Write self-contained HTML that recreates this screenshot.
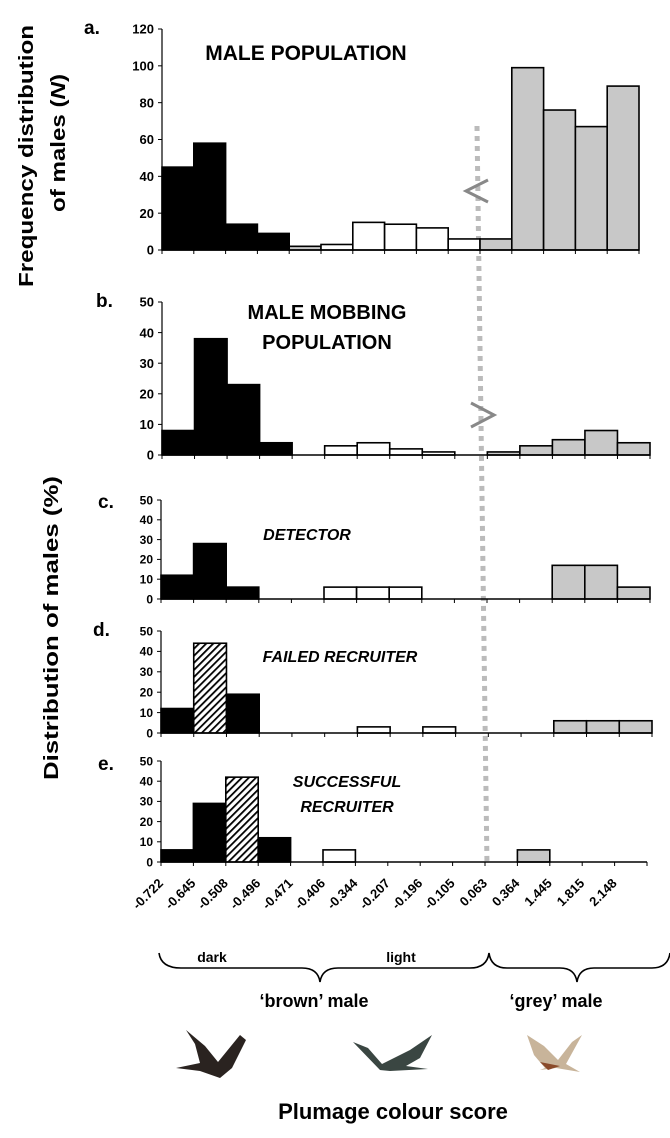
<!DOCTYPE html>
<html><head><meta charset="utf-8"><style>
html,body{margin:0;padding:0;background:#fff;}
svg{display:block;font-family:"Liberation Sans",Arial,sans-serif;}
</style></head><body>
<svg width="670" height="1138" viewBox="0 0 670 1138" xmlns="http://www.w3.org/2000/svg">
<defs>
<pattern id="h" width="5" height="5" patternUnits="userSpaceOnUse" patternTransform="rotate(45)">
<rect width="5" height="5" fill="#fff"/><rect width="1.8" height="5" fill="#000"/>
</pattern>
</defs>
<!-- dotted line -->
<line x1="477" y1="126" x2="487" y2="866" stroke="#bbb" stroke-width="5" stroke-dasharray="5,5"/>
<g id="bars"></g>
<!-- Y axis titles -->
<text transform="translate(33,156) rotate(-90)" text-anchor="middle" font-size="20" font-weight="bold" textLength="262" lengthAdjust="spacingAndGlyphs">Frequency distribution</text>
<text transform="translate(65,143) rotate(-90)" text-anchor="middle" font-size="20" font-weight="bold" textLength="138" lengthAdjust="spacingAndGlyphs">of males (<tspan font-style="italic">N</tspan>)</text>
<text transform="translate(58,628) rotate(-90)" text-anchor="middle" font-size="20" font-weight="bold" textLength="304" lengthAdjust="spacingAndGlyphs">Distribution of males (%)</text>
<!-- panel letters -->
<g font-size="19" font-weight="bold">
<text x="84" y="34">a.</text><text x="96" y="307">b.</text><text x="98" y="508">c.</text><text x="93" y="636">d.</text><text x="98" y="770">e.</text>
</g>
<!-- titles -->
<g font-weight="bold" text-anchor="middle">
<text x="306" y="60" font-size="21">MALE POPULATION</text>
<text x="327" y="319" font-size="20">MALE MOBBING</text>
<text x="327" y="349" font-size="20">POPULATION</text>
<text x="307" y="540" font-size="16" font-style="italic">DETECTOR</text>
<text x="340" y="662" font-size="16" font-style="italic">FAILED RECRUITER</text>
<text x="347" y="787" font-size="16" font-style="italic">SUCCESSFUL</text>
<text x="347" y="812" font-size="16" font-style="italic">RECRUITER</text>
</g>
<path d="M488,180 L466,191 L488,202" fill="none" stroke="#888" stroke-width="3"/>
<path d="M471,403 L494,415 L471,427" fill="none" stroke="#888" stroke-width="3"/>
<!-- x tick labels -->
<g id="xl" font-size="13" font-weight="bold" text-anchor="end"></g>
<g font-size="14" font-weight="bold" text-anchor="middle">
<text x="212" y="962">dark</text><text x="401" y="962">light</text>
</g>
<path d="M159,953 Q161,968 181,968 L302,968 Q318,968 320,982 Q322,968 338,968 L470,968 Q487,968 489,953 Q491,968 507,968 L560,968 Q575,968 577,982 Q579,968 594,968 L652,968 Q668,968 670,953" fill="none" stroke="#000" stroke-width="1.6"/>
<g font-size="18" font-weight="bold" text-anchor="middle">
<text x="314" y="1007">‘brown’ male</text><text x="556" y="1007">‘grey’ male</text>
</g>
<!-- birds -->
<g>
<path d="M176,1068 L200,1063 L195,1044 L186,1030 L205,1046 L218,1062 L240,1035 L246,1040 L232,1068 L220,1078 L200,1071 Z" fill="#2a2320"/>
<path d="M353,1042 L368,1048 L382,1064 L410,1050 L432,1035 L420,1058 L406,1066 L428,1069 L390,1071 L380,1070 Z" fill="#3a4642"/>
<path d="M527,1035 L534,1055 L545,1068 L540,1070 L556,1068 L580,1072 L566,1064 L582,1035 L572,1042 L558,1060 L544,1046 Z" fill="#c8b49a"/>
<path d="M540,1062 L548,1070 L560,1066 Z" fill="#8a4a2a"/>
</g>
<text x="393" y="1119" font-size="22" font-weight="bold" text-anchor="middle">Plumage colour score</text>
<script>
var S="http://www.w3.org/2000/svg";
var g=document.getElementById('bars');
function el(t,a,p){var e=document.createElementNS(S,t);for(var k in a)e.setAttribute(k,a[k]);(p||g).appendChild(e);return e;}
var P=[
{x0:162,x1:639,y0:250,yt:29,max:120,step:20,fs:13,
 bars:[[0,45,'k'],[1,58,'k'],[2,14,'k'],[3,9,'k'],[4,2,'g'],[5,3,'w'],[6,15,'w'],[7,14,'w'],[8,12,'w'],[9,6,'w'],[10,6,'g'],[11,99,'g'],[12,76,'g'],[13,67,'g'],[14,89,'g']]},
{x0:162,x1:650,y0:455,yt:302,max:50,step:10,fs:13,
 bars:[[0,8,'k'],[1,38,'k'],[2,23,'k'],[3,4,'k'],[5,3,'w'],[6,4,'w'],[7,2,'w'],[8,1,'w'],[10,1,'g'],[11,3,'g'],[12,5,'g'],[13,8,'g'],[14,4,'g']]},
{x0:161,x1:650,y0:599,yt:500,max:50,step:10,fs:12,
 bars:[[0,12,'k'],[1,28,'k'],[2,6,'k'],[5,6,'w'],[6,6,'w'],[7,6,'w'],[12,17,'g'],[13,17,'g'],[14,6,'g']]},
{x0:161,x1:652,y0:733,yt:631,max:50,step:10,fs:12,
 bars:[[0,12,'k'],[1,44,'h'],[2,19,'k'],[6,3,'w'],[8,3,'w'],[12,6,'g'],[13,6,'g'],[14,6,'g']]},
{x0:161,x1:647,y0:862,yt:761,max:50,step:10,fs:12,
 bars:[[0,6,'k'],[1,29,'k'],[2,42,'h'],[3,12,'k'],[5,6,'w'],[11,6,'g']]}
];
var fill={k:'#000',w:'#fff',g:'#c8c8c8',h:'url(#h)'};
P.forEach(function(p){
 var w=(p.x1-p.x0)/15, sc=(p.y0-p.yt)/p.max;
 p.bars.forEach(function(b){
  el('rect',{x:p.x0+b[0]*w,y:p.y0-b[1]*sc,width:w,height:b[1]*sc,fill:fill[b[2]],stroke:'#000','stroke-width':1.6});
 });
 el('line',{x1:p.x0,y1:p.yt,x2:p.x0,y2:p.y0,stroke:'#000','stroke-width':1.2});
 el('line',{x1:p.x0,y1:p.y0,x2:p.x1,y2:p.y0,stroke:'#000','stroke-width':1.4});
 for(var i=0;i<=15;i++)el('line',{x1:p.x0+i*w,y1:p.y0,x2:p.x0+i*w,y2:p.y0+4,stroke:'#000','stroke-width':1});
 for(var v=0;v<=p.max;v+=p.step){
  var y=p.y0-v*sc;
  el('line',{x1:p.x0-4,y1:y,x2:p.x0,y2:y,stroke:'#000','stroke-width':1});
  var t=el('text',{x:p.x0-8,y:y+p.fs*0.36,'font-size':p.fs,'font-weight':'bold','text-anchor':'end'});t.textContent=v;
 }
});
var L=['-0.722','-0.645','-0.508','-0.496','-0.471','-0.406','-0.344','-0.207','-0.196','-0.105','0.063','0.364','1.445','1.815','2.148'];
var xl=document.getElementById('xl');
L.forEach(function(s,i){var x=164+i*32.4,y=884;var t=el('text',{x:x,y:y,transform:'rotate(-45 '+x+' '+y+')'},xl);t.textContent=s;});
</script>
</svg>
</body></html>
